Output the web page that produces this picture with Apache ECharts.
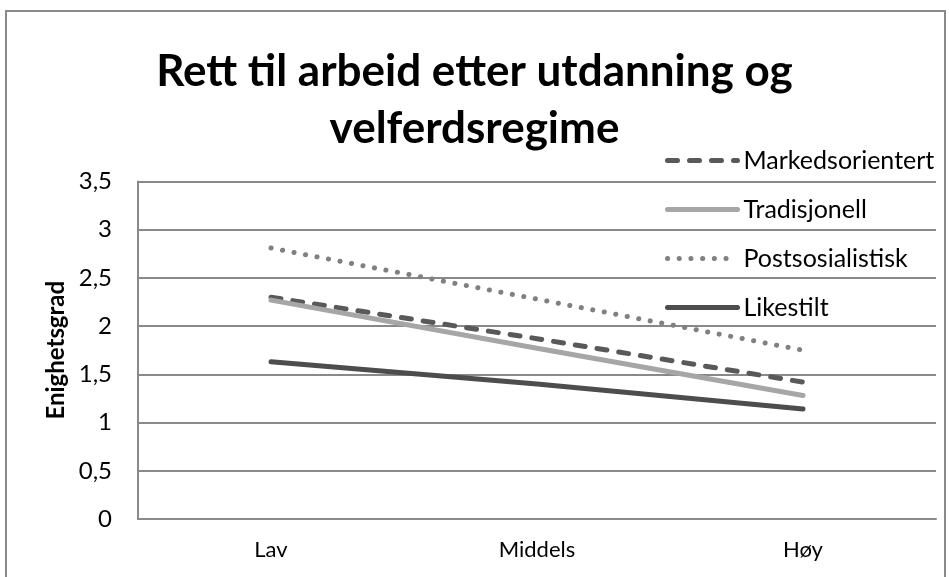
<!DOCTYPE html>
<html>
<head>
<meta charset="utf-8">
<script src="https://cdn.jsdelivr.net/npm/echarts@6/dist/echarts.min.js"></script>
<style>
  html, body { margin: 0; padding: 0; background: #fff; }
  #chart { width: 949px; height: 577px; }
</style>
</head>
<body>
<div id="chart"></div>
<script>
// kategorier og verdier lest av figuren
const categories = ['Lav', 'Middels', 'Høy'];
const markedsorientert = [2.30, 1.87, 1.42];
const tradisjonell = [2.27, 1.77, 1.28];
const postsosialistisk = [2.81, 2.28, 1.75];
const likestilt = [1.63, 1.40, 1.14];
const yTicks = [0, 0.5, 1, 1.5, 2, 2.5, 3, 3.5];

const font = 'Lato';
const chart = echarts.init(document.getElementById('chart'));

chart.setOption({
  animation: false,
  textStyle: { fontFamily: font },
  title: {
    text: 'Rett til arbeid etter utdanning og\nvelferdsregime',
    left: 'center',
    top: 38,
    textStyle: { fontFamily: font, fontWeight: 'bold', fontSize: 44, lineHeight: 57, color: '#000' }
  },
  graphic: [{
    type: 'rect',
    shape: { x: 6, y: 11, width: 939, height: 600 },
    style: { fill: 'none', stroke: '#898989', lineWidth: 2 },
    silent: true
  }],
  legend: {
    orient: 'vertical',
    left: 660,
    top: 143,
    itemWidth: 70,
    itemHeight: 14,
    itemGap: 24,
    itemStyle: { opacity: 0 },
    lineStyle: { width: 5, cap: 'round' },
    textStyle: { fontFamily: font, fontSize: 25, lineHeight: 24, color: '#000', padding: [0, 0, 0, 1] },
    data: ['Markedsorientert', 'Tradisjonell', 'Postsosialistisk', 'Likestilt']
  },
  grid: { left: 138, right: 13, top: 181.5, bottom: 58 },
  xAxis: {
    type: 'category',
    data: categories,
    boundaryGap: true,
    axisLine: { lineStyle: { color: '#898989', width: 2 } },
    axisTick: { show: false },
    axisLabel: { fontSize: 22, color: '#000', margin: 20 }
  },
  yAxis: {
    type: 'value',
    min: 0,
    max: yTicks[yTicks.length - 1],
    interval: 0.5,
    name: 'Enighetsgrad',
    nameLocation: 'middle',
    nameGap: 70,
    nameTextStyle: { fontSize: 24, fontWeight: 'bold', color: '#000' },
    axisLine: { show: true, lineStyle: { color: '#898989', width: 2 } },
    axisTick: { show: false },
    splitLine: { lineStyle: { color: '#898989', width: 2 } },
    axisLabel: {
      fontSize: 24, color: '#000', margin: 26,
      formatter: v => String(v).replace('.', ',')
    }
  },
  series: [
    {
      name: 'Markedsorientert', type: 'line', data: markedsorientert,
      symbol: 'none', color: '#595959',
      lineStyle: { width: 5, color: '#595959', type: [10, 12], cap: 'round' }
    },
    {
      name: 'Tradisjonell', type: 'line', data: tradisjonell,
      symbol: 'none', color: '#a6a6a6',
      lineStyle: { width: 5, color: '#a6a6a6', cap: 'round' }
    },
    {
      name: 'Postsosialistisk', type: 'line', data: postsosialistisk,
      symbol: 'none', color: '#808080',
      lineStyle: { width: 5, color: '#808080', type: [0.1, 11.6], cap: 'round' }
    },
    {
      name: 'Likestilt', type: 'line', data: likestilt,
      symbol: 'none', color: '#4d4d4d',
      lineStyle: { width: 5, color: '#4d4d4d', cap: 'round' }
    }
  ]
});
</script>
</body>
</html>
